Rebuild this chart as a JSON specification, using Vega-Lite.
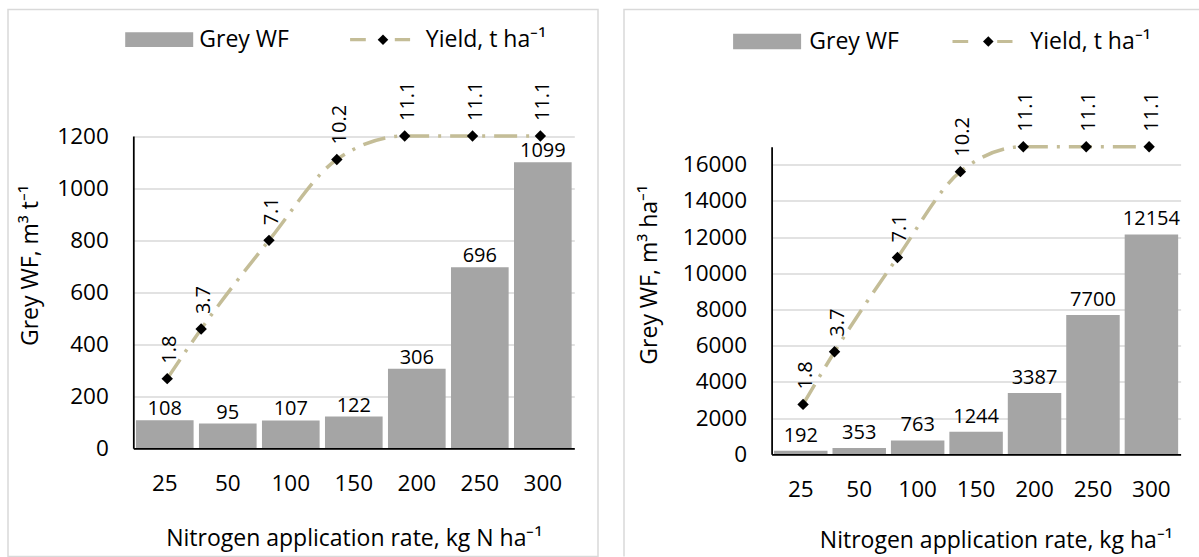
{
  "$schema": "https://vega.github.io/schema/vega-lite/v6.json",
  "padding": {"left": 7, "top": 8.5, "right": 0, "bottom": 0},
  "background": "white",
  "spacing": 24,
  "datasets": {
    "left": [
      {"n": 25, "wf": 108, "yield": 1.8},
      {"n": 50, "wf": 95, "yield": 3.7},
      {"n": 100, "wf": 107, "yield": 7.1},
      {"n": 150, "wf": 122, "yield": 10.2},
      {"n": 200, "wf": 306, "yield": 11.1},
      {"n": 250, "wf": 696, "yield": 11.1},
      {"n": 300, "wf": 1099, "yield": 11.1}
    ],
    "right": [
      {"n": 25, "wf": 192, "yield": 1.8},
      {"n": 50, "wf": 353, "yield": 3.7},
      {"n": 100, "wf": 763, "yield": 7.1},
      {"n": 150, "wf": 1244, "yield": 10.2},
      {"n": 200, "wf": 3387, "yield": 11.1},
      {"n": 250, "wf": 7700, "yield": 11.1},
      {"n": 300, "wf": 12154, "yield": 11.1}
    ]
  },
  "config": {
    "font": "Open Sans",
    "text": {"font": "Open Sans"},
    "axis": {"labelFont": "Open Sans", "titleFont": "Open Sans"},
    "legend": {"labelFont": "Open Sans"}
  },
  "resolve": {"scale": {"color": "independent", "shape": "independent"}, "legend": {"color": "independent", "shape": "independent"}},
  "hconcat": [
    {
      "width": 590,
      "height": 547,
      "view": {"stroke": "#D9D9D9", "strokeWidth": 1.5, "fill": "white"},
      "data": {"name": "left"},
      "layer": [
        {
          "encoding": {
            "x": {"field": "n", "type": "ordinal",
              "scale": {"range": [125.3, 566.3], "paddingInner": 0.085, "paddingOuter": 0.042},
              "axis": {"offset": -108.2, "domainColor": "#000000", "domainWidth": 1.75, "ticks": false, "tickSize": 0,
                "labelPadding": 24.5, "labelFontSize": 22.5, "labelColor": "#000000", "labelAngle": 0, "labelOverlap": false,
                "grid": false, "zindex": 1,
                "title": "Nitrogen application rate, kg N ha⁻¹", "titleFontSize": 23, "titleFontWeight": "normal",
                "titleColor": "#000000", "titleBaseline": "alphabetic", "titleY": 97}},
            "y": {"field": "wf", "type": "quantitative",
              "scale": {"domain": [0, 1200], "range": [438.8, 126.5], "nice": false},
              "axis": {"offset": -125.3, "values": [0, 200, 400, 600, 800, 1000, 1200], "format": "d",
                "grid": true, "gridColor": "#D9D9D9", "gridWidth": 1.3,
                "domainColor": "#000000", "domainWidth": 1.75, "ticks": false, "tickSize": 0,
                "labelPadding": 25, "labelFontSize": 22.5, "labelColor": "#000000", "labelOverlap": false, "zindex": 0,
                "title": "Grey WF, m³ t⁻¹", "titleFontSize": 23, "titleFontWeight": "normal", "titleColor": "#000000",
                "titleBaseline": "middle", "titleAngle": 270, "titleAlign": "center", "titleX": -103, "titleY": 255.5}}
          },
          "layer": [
            {
              "mark": {"type": "bar"},
              "encoding": {
                "color": {"datum": "Grey WF",
                  "scale": {"domain": ["Grey WF", "Yield, t ha⁻¹"], "range": ["#A5A5A5", "#C4BD97"]},
                  "legend": {"orient": "none", "legendX": 131.2, "legendY": 10.2, "direction": "horizontal", "title": null,
                    "padding": 0, "symbolSize": 1600, "symbolStrokeWidth": 0, "labelOffset": 20.1, "columnPadding": 60.5,
                    "labelFontSize": 23, "labelColor": "#000000", "labelLimit": 300, "rowPadding": 0,
                    "encode": {"symbols": {"update": {
                      "shape": {"signal": "datum.value === 'Grey WF' ? 'M-1.7,-0.37H1.7V0.37H-1.7Z' : 'M-1.78,-0.08H-0.995V0.08H-1.78Z M0.455,-0.08H1.22V0.08H0.455Z'"},
                      "fill": {"signal": "datum.value === 'Grey WF' ? '#A5A5A5' : '#C4BD97'"},
                      "stroke": {"value": "transparent"},
                      "strokeWidth": {"value": 0},
                      "opacity": {"value": 1},
                      "fillOpacity": {"value": 1}
                    }}}}
                }
              }
            },
            {
              "mark": {"type": "text", "baseline": "alphabetic", "dy": -5, "fontSize": 20, "color": "#000000"},
              "encoding": {"text": {"field": "wf", "type": "quantitative", "format": "d"}}
            }
          ]
        },
        {
          "encoding": {
            "x": {"field": "n", "type": "quantitative",
              "scale": {"domain": [0, 325], "range": [125.3, 566.3], "nice": false, "zero": false}, "axis": null},
            "y": {"field": "yield", "type": "quantitative",
              "scale": {"domain": [-0.87, 11.1], "range": [438.8, 126.5], "nice": false, "zero": false}, "axis": null}
          },
          "layer": [
            {
              "mark": {"type": "line", "interpolate": "monotone", "strokeWidth": 3.5, "strokeDash": [23, 9, 3, 9], "strokeCap": "butt"},
              "encoding": {"color": {"datum": "Yield, t ha⁻¹"}}
            },
            {
              "mark": {"type": "point", "filled": true, "color": "#000000", "size": 130, "opacity": 1},
              "encoding": {
                "shape": {"datum": "Yield, t ha⁻¹",
                  "scale": {"domain": ["Yield, t ha⁻¹"], "range": ["diamond"]},
                  "legend": {"orient": "none", "legendX": 369.5, "legendY": 24.7, "title": null, "padding": 0,
                    "symbolSize": 112, "symbolStrokeWidth": 0, "symbolFillColor": "#000000",
                    "labelFontSize": 1, "labelOpacity": 0, "labelOffset": 0,
                    "encode": {"symbols": {"update": {
                      "shape": {"value": "diamond"},
                      "fill": {"value": "#000000"},
                      "stroke": {"value": "transparent"},
                      "strokeWidth": {"value": 0},
                      "opacity": {"value": 1},
                      "fillOpacity": {"value": 1}
                    }}}}
                }
              }
            },
            {
              "mark": {"type": "text", "angle": 270, "align": "left", "baseline": "middle", "dx": 15, "dy": 3, "fontSize": 20, "color": "#000000"},
              "encoding": {"text": {"field": "yield", "type": "quantitative", "format": ".1f"}}
            }
          ]
        }
      ],
      "resolve": {"scale": {"x": "independent", "y": "independent"}}
    },
    {
      "width": 576,
      "height": 547,
      "view": {"stroke": "#D9D9D9", "strokeWidth": 1.5, "fill": "white", "strokeDash": [576, 1123, 547]},
      "data": {"name": "right"},
      "layer": [
        {
          "encoding": {
            "x": {"field": "n", "type": "ordinal",
              "scale": {"range": [147.6, 556.6], "paddingInner": 0.085, "paddingOuter": 0.042},
              "axis": {"offset": -102.2, "domainColor": "#000000", "domainWidth": 1.75, "ticks": false, "tickSize": 0,
                "labelPadding": 24.5, "labelFontSize": 22.5, "labelColor": "#000000", "labelAngle": 0, "labelOverlap": false,
                "grid": false, "zindex": 1,
                "title": "Nitrogen application rate, kg ha⁻¹", "titleFontSize": 23, "titleFontWeight": "normal",
                "titleColor": "#000000", "titleBaseline": "alphabetic", "titleX": 371.8, "titleY": 93.4}},
            "y": {"field": "wf", "type": "quantitative",
              "scale": {"domain": [0, 17000], "range": [444.8, 137.2], "nice": false},
              "axis": {"offset": -147.6, "values": [0, 2000, 4000, 6000, 8000, 10000, 12000, 14000, 16000], "format": "d",
                "grid": true, "gridColor": "#D9D9D9", "gridWidth": 1.3,
                "domainColor": "#000000", "domainWidth": 1.75, "ticks": false, "tickSize": 0,
                "labelPadding": 25, "labelFontSize": 22.5, "labelColor": "#000000", "labelOverlap": false, "zindex": 0,
                "title": "Grey WF, m³ ha⁻¹", "titleFontSize": 23, "titleFontWeight": "normal", "titleColor": "#000000",
                "titleBaseline": "middle", "titleAngle": 270, "titleAlign": "center", "titleX": -122.3, "titleY": 264.8}}
          },
          "layer": [
            {
              "mark": {"type": "bar"},
              "encoding": {
                "color": {"datum": "Grey WF",
                  "scale": {"domain": ["Grey WF", "Yield, t ha⁻¹"], "range": ["#A5A5A5", "#C4BD97"]},
                  "legend": {"orient": "none", "legendX": 123.1, "legendY": 12, "direction": "horizontal", "title": null,
                    "padding": 0, "symbolSize": 1600, "symbolStrokeWidth": 0, "labelOffset": 22.2, "columnPadding": 53,
                    "labelFontSize": 23, "labelColor": "#000000", "labelLimit": 300, "rowPadding": 0,
                    "encode": {"symbols": {"update": {
                      "shape": {"signal": "datum.value === 'Grey WF' ? 'M-1.7,-0.39H1.7V0.39H-1.7Z' : 'M-1.78,-0.08H-0.995V0.08H-1.78Z M0.455,-0.08H1.22V0.08H0.455Z'"},
                      "fill": {"signal": "datum.value === 'Grey WF' ? '#A5A5A5' : '#C4BD97'"},
                      "stroke": {"value": "transparent"},
                      "strokeWidth": {"value": 0},
                      "opacity": {"value": 1},
                      "fillOpacity": {"value": 1}
                    }}}}
                }
              }
            },
            {
              "mark": {"type": "text", "baseline": "alphabetic", "dy": -9, "fontSize": 20, "color": "#000000"},
              "encoding": {"text": {"field": "wf", "type": "quantitative", "format": "d"}}
            }
          ]
        },
        {
          "encoding": {
            "x": {"field": "n", "type": "quantitative",
              "scale": {"domain": [0, 325], "range": [147.6, 556.6], "nice": false, "zero": false}, "axis": null},
            "y": {"field": "yield", "type": "quantitative",
              "scale": {"domain": [0, 11.1], "range": [444.8, 137.2], "nice": false, "zero": false}, "axis": null}
          },
          "layer": [
            {
              "mark": {"type": "line", "interpolate": "monotone", "strokeWidth": 3.5, "strokeDash": [23, 9, 3, 9], "strokeCap": "butt"},
              "encoding": {"color": {"datum": "Yield, t ha⁻¹"}}
            },
            {
              "mark": {"type": "point", "filled": true, "color": "#000000", "size": 130, "opacity": 1},
              "encoding": {
                "shape": {"datum": "Yield, t ha⁻¹",
                  "scale": {"domain": ["Yield, t ha⁻¹"], "range": ["diamond"]},
                  "legend": {"orient": "none", "legendX": 358.8, "legendY": 26.5, "title": null, "padding": 0,
                    "symbolSize": 112, "symbolStrokeWidth": 0, "symbolFillColor": "#000000",
                    "labelFontSize": 1, "labelOpacity": 0, "labelOffset": 0,
                    "encode": {"symbols": {"update": {
                      "shape": {"value": "diamond"},
                      "fill": {"value": "#000000"},
                      "stroke": {"value": "transparent"},
                      "strokeWidth": {"value": 0},
                      "opacity": {"value": 1},
                      "fillOpacity": {"value": 1}
                    }}}}
                }
              }
            },
            {
              "mark": {"type": "text", "angle": 270, "align": "left", "baseline": "middle", "dx": 15, "dy": 3, "fontSize": 20, "color": "#000000"},
              "encoding": {"text": {"field": "yield", "type": "quantitative", "format": ".1f"}}
            }
          ]
        }
      ],
      "resolve": {"scale": {"x": "independent", "y": "independent"}}
    }
  ]
}
